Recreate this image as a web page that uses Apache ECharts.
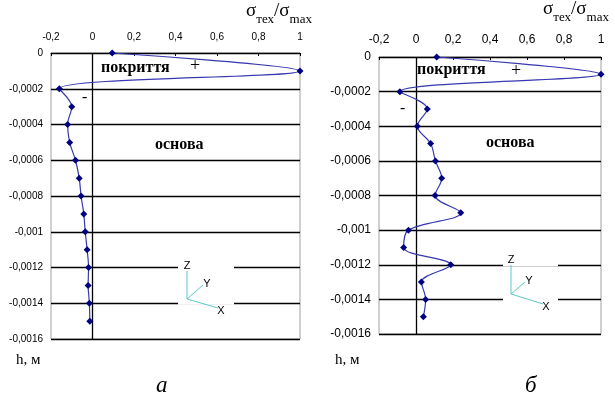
<!DOCTYPE html>
<html>
<head>
<meta charset="utf-8">
<script src="https://cdn.jsdelivr.net/npm/echarts@6/dist/echarts.min.js"></script>
<style>
  html, body { margin: 0; padding: 0; background: #fff; }
  #chart { width: 615px; height: 403px; }
</style>
</head>
<body>
<div id="chart"></div>
<script>
// depth h, m (same for both panels)
const depth = [0, -0.0001, -0.0002, -0.0003, -0.0004, -0.0005, -0.0006, -0.0007,
  -0.0008, -0.0009, -0.001, -0.0011, -0.0012, -0.0013, -0.0014, -0.0015];

// σтех/σmax, panel а
const ratioA = [0.095, 1.0, -0.16, -0.1, -0.12, -0.11, -0.082, -0.064,
  -0.055, -0.042, -0.035, -0.026, -0.019, -0.021, -0.015, -0.013];

// σтех/σmax, panel б
const ratioB = [0.112, 1.0, -0.087, 0.061, 0.007, 0.079, 0.105, 0.139,
  0.103, 0.242, -0.041, -0.067, 0.188, 0.029, 0.052, 0.040];

const X_MIN = -0.2, X_MAX = 1, X_STEP = 0.2;
const Y_MIN = -0.0016, Y_MAX = 0, Y_STEP = 0.0002;

const SANS = "'Liberation Sans', Arial, sans-serif";
const SERIF = "'Liberation Serif', 'Times New Roman', serif";

const LINE_COLOR = "#3838b0";
const MARK_COLOR = "#000080";
const ICON_COLOR = "#5cc8cc";

const fmt = v => String(+v.toFixed(5)).replace(".", ",");

const chart = echarts.init(document.getElementById("chart"));

const grids = [
  { left: 51, top: 53, width: 249, height: 286 },
  { left: 379, top: 57, width: 222, height: 277 },
];
const labelSize = [10, 12];

function xAxisFor(i) {
  return {
    gridIndex: i, type: "value", position: "top",
    min: X_MIN, max: X_MAX, interval: X_STEP,
    axisLine: { onZero: false, lineStyle: { color: "#000", width: 1 } },
    axisTick: { show: true, inside: true, length: 3, lineStyle: { color: "#000" } },
    axisLabel: { fontFamily: SANS, fontSize: labelSize[i], color: "#000", margin: 11, formatter: fmt },
    splitLine: { show: false },
  };
}

function yAxisFor(i) {
  return {
    gridIndex: i, type: "value",
    min: Y_MIN, max: Y_MAX, interval: Y_STEP,
    axisLine: { show: false },
    axisTick: { show: false },
    axisLabel: { fontFamily: SANS, fontSize: labelSize[i], color: "#000", margin: 8, formatter: fmt },
    splitLine: { show: true, lineStyle: { color: "#000", width: 1.3 } },
  };
}

function seriesFor(i, values) {
  return {
    type: "line", xAxisIndex: i, yAxisIndex: i,
    data: values.map((v, k) => [v, depth[k]]),
    smooth: 0.35,
    symbol: "diamond", symbolSize: 7,
    itemStyle: { color: MARK_COLOR },
    lineStyle: { color: LINE_COLOR, width: 1.2 },
    z: 5,
    markLine: {
      silent: true, symbol: "none", animation: false,
      label: { show: false },
      lineStyle: { color: "#000", type: "solid", width: 1.3 },
      data: [{ xAxis: 0 }],
    },
  };
}

function titleText(x, y) {
  return {
    type: "text", left: x, top: y, z: 10,
    style: {
      text: "{s|σ}{b|тех}{s|/σ}{b|max}",
      rich: {
        s: { fontFamily: SERIF, fontSize: 19, fill: "#000", verticalAlign: "bottom" },
        b: { fontFamily: SERIF, fontSize: 13, fill: "#000", verticalAlign: "bottom", padding: [0, 0, -5, 0] },
      },
    },
  };
}

function label(text, x, y, size, opts = {}) {
  return {
    type: "text", left: x, top: y, z: 10,
    style: Object.assign({ text, fontFamily: SERIF, fontSize: size, fill: "#000" }, opts),
  };
}

function axesIcon(ox, oy, gapL, gapR, lineYs, zTop, yEnd, xEnd) {
  const items = lineYs.map(y => ({
    type: "rect", z: 8,
    shape: { x: gapL, y: y - 2, width: gapR - gapL, height: 4 },
    style: { fill: "#fff" },
  }));
  const ls = { stroke: ICON_COLOR, lineWidth: 1 };
  const ts = { fontFamily: SANS, fontSize: 11, fill: "#000", align: "center", verticalAlign: "middle" };
  items.push(
    { type: "line", z: 9, shape: { x1: ox, y1: oy, x2: ox, y2: zTop }, style: ls },
    { type: "line", z: 9, shape: { x1: ox, y1: oy, x2: yEnd[0], y2: yEnd[1] }, style: ls },
    { type: "line", z: 9, shape: { x1: ox, y1: oy, x2: xEnd[0], y2: xEnd[1] }, style: ls },
    { type: "text", z: 9, x: ox, y: zTop - 5, style: Object.assign({ text: "Z" }, ts) },
    { type: "text", z: 9, x: yEnd[0] + 4, y: yEnd[1] - 1, style: Object.assign({ text: "Y" }, ts) },
    { type: "text", z: 9, x: xEnd[0] + 3, y: xEnd[1] + 3, style: Object.assign({ text: "X" }, ts) },
  );
  return items;
}

chart.setOption({
  animation: false,
  backgroundColor: "#fff",
  grid: grids.map(g => Object.assign({ show: true, borderColor: "#a0a0a0", borderWidth: 1, backgroundColor: "transparent" }, g)),
  xAxis: [xAxisFor(0), xAxisFor(1)],
  yAxis: [yAxisFor(0), yAxisFor(1)],
  series: [seriesFor(0, ratioA), seriesFor(1, ratioB)],
  graphic: [
    titleText(246, 2),
    titleText(543, 0),
    label("покриття", 101, 60, 16, { fontWeight: "bold" }),
    label("+", 190, 57, 18),
    label("-", 82, 90, 16),
    label("основа", 155, 137, 16, { fontWeight: "bold" }),
    label("покриття", 417, 62, 16, { fontWeight: "bold" }),
    label("+", 511, 62, 18),
    label("-", 400, 101, 16),
    label("основа", 486, 135, 16, { fontWeight: "bold" }),
    label("h, м", 16, 353, 15),
    label("h, м", 335, 353, 15),
    label("а", 156, 374, 23, { fontStyle: "italic" }),
    label("б", 525, 374, 23, { fontStyle: "italic" }),
    ...axesIcon(187, 299, 178, 234, [267.7, 302.7], 271, [203, 285], [218, 308]),
    ...axesIcon(511, 294, 503, 558, [264.3, 299], 265, [525, 282], [543, 304]),
  ],
});
</script>
</body>
</html>
